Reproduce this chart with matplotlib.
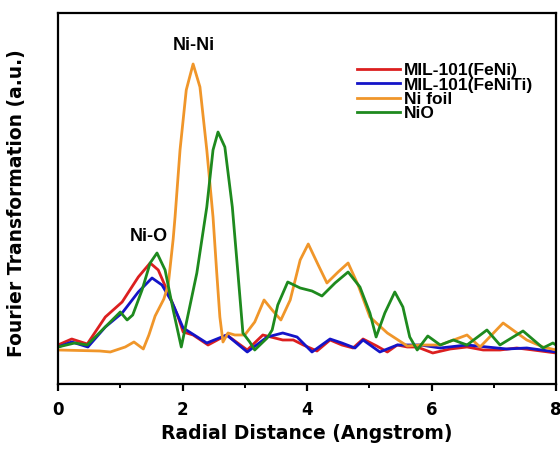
import matplotlib
matplotlib.use("Agg")
import matplotlib.pyplot as plt
from matplotlib.ticker import MultipleLocator

# values (R in Angstrom, FT magnitude in arbitrary units)
x_fen = [0.00, 0.22, 0.47, 0.76, 1.03, 1.29, 1.48, 1.61, 1.77, 1.93, 2.01, 2.17, 2.41, 2.71,
         3.04, 3.29, 3.61, 3.78, 3.94, 4.16, 4.37, 4.56, 4.74, 4.90, 5.12, 5.29, 5.45, 5.61,
         5.77, 6.02, 6.30, 6.57, 6.83, 7.10, 7.37, 7.63, 8.00]
y_fen = [39, 45, 40, 67, 82, 107, 121, 114, 91, 67, 52, 49, 39, 49,
         34, 49, 44, 44, 39, 33, 44, 39, 36, 45, 38, 32, 39, 37,
         37, 31, 35, 37, 34, 34, 36, 34, 31]

x_feniti = [0.00, 0.22, 0.48, 0.76, 1.03, 1.29, 1.51, 1.67, 1.83, 2.01, 2.39, 2.71, 3.04,
            3.36, 3.61, 3.84, 4.08, 4.37, 4.56, 4.77, 4.90, 5.17, 5.45, 5.82, 6.14, 6.57,
            6.89, 7.21, 7.53, 8.00]
y_feniti = [37, 42, 37, 57, 71, 92, 106, 99, 82, 56, 41, 49, 32,
            47, 51, 47, 32, 45, 41, 36, 44, 32, 39, 39, 36, 39,
            37, 35, 36, 32]

x_foil = [0.00, 0.67, 0.84, 1.08, 1.22, 1.37, 1.46, 1.56, 1.70, 1.77, 1.85, 1.88, 1.96, 2.06,
          2.17, 2.28, 2.39, 2.49, 2.55, 2.60, 2.65, 2.73, 2.84, 3.00, 3.16, 3.31, 3.44, 3.58,
          3.73, 3.89, 4.02, 4.18, 4.32, 4.50, 4.66, 4.82, 5.01, 5.29, 5.61, 5.82, 6.14, 6.57,
          6.78, 7.15, 7.53, 7.79, 8.00]
y_foil = [34, 33, 32, 37, 42, 35, 49, 68, 85, 99, 145, 167, 234, 294,
          320, 297, 234, 167, 111, 67, 42, 51, 49, 49, 62, 84, 74, 64,
          84, 124, 140, 119, 101, 112, 121, 99, 67, 51, 38, 39, 39, 49,
          37, 61, 44, 37, 34]

x_nio = [0.00, 0.27, 0.47, 0.71, 1.00, 1.11, 1.20, 1.35, 1.48, 1.59, 1.72, 1.85, 1.98, 2.23,
         2.39, 2.49, 2.57, 2.68, 2.80, 2.89, 2.97, 3.08, 3.16, 3.36, 3.44, 3.53, 3.69, 3.89,
         4.08, 4.24, 4.45, 4.66, 4.85, 5.01, 5.11, 5.25, 5.41, 5.54, 5.65, 5.77, 5.94, 6.14,
         6.35, 6.57, 6.89, 7.10, 7.47, 7.79, 7.95, 8.00]
y_nio = [37, 41, 39, 54, 72, 64, 69, 94, 121, 131, 114, 74, 37, 111,
         177, 234, 252, 237, 177, 111, 51, 42, 34, 46, 54, 79, 102, 96,
         93, 88, 101, 112, 97, 71, 47, 71, 92, 77, 47, 34, 48, 39,
         44, 39, 54, 39, 53, 36, 41, 39]

series = [
    (x_fen, y_fen, "MIL-101(FeNi)", "#dc1f1f"),
    (x_feniti, y_feniti, "MIL-101(FeNiTi)", "#1414c8"),
    (x_foil, y_foil, "Ni foil", "#f0962a"),
    (x_nio, y_nio, "NiO", "#1e8a1e"),
]

fig = plt.figure(figsize=(5.6, 4.5), dpi=100)
ax = fig.add_axes([0.1036, 0.1467, 0.8893, 0.8244])

for xs, ys, name, col in series:
    ax.plot(xs, ys, color=col, lw=2.0, label=name)

ax.set_xlim(0, 8)
ax.set_ylim(0, 371)
ax.xaxis.set_major_locator(MultipleLocator(2))
ax.xaxis.set_minor_locator(MultipleLocator(1))
ax.set_yticks([])
ax.tick_params(axis="x", which="major", direction="out", length=5, width=1.6, pad=7)
ax.tick_params(axis="x", which="minor", direction="out", length=3, width=1.4)
for lbl in ax.get_xticklabels():
    lbl.set_fontsize(12)
    lbl.set_fontweight("bold")
for s in ax.spines.values():
    s.set_linewidth(1.6)

ax.set_xlabel("Radial Distance (Angstrom)", fontsize=13.5, fontweight="bold", labelpad=4)
ax.set_ylabel("Fourier Transformation (a.u.)", fontsize=13.5, fontweight="bold")
ax.yaxis.set_label_coords(-0.064, 0.4865)

ax.text(2.18, 339, "Ni-Ni", ha="center", va="center", fontsize=13,
        fontweight="bold", family="Liberation Sans")
ax.text(1.46, 147, "Ni-O", ha="center", va="center", fontsize=13,
        fontweight="bold", family="Liberation Sans")

leg = ax.legend(loc="upper left", bbox_to_anchor=(0.600, 0.865), frameon=False,
                borderpad=0, borderaxespad=0, handlelength=2.5, handletextpad=0.2,
                labelspacing=-0.05, prop={"family": "Liberation Sans", "weight": "bold", "size": 12.5})

fig.savefig("out.png", dpi=100)
